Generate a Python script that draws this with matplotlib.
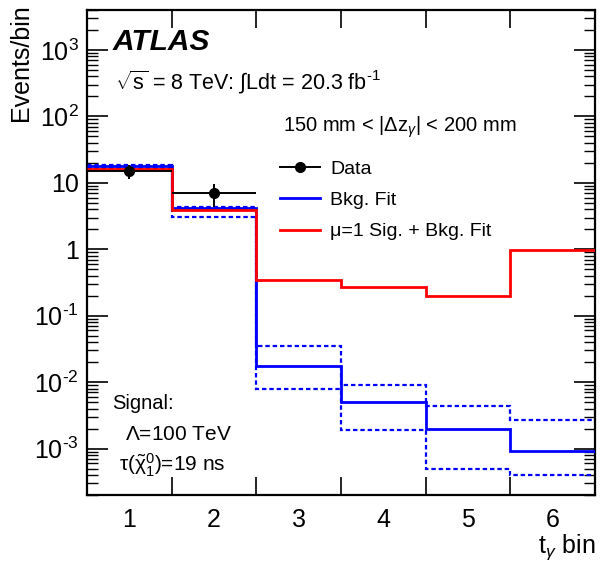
import numpy as np
import matplotlib.pyplot as plt
from matplotlib.lines import Line2D
from matplotlib.ticker import FixedLocator, FuncFormatter, LogLocator, NullFormatter

plt.rcParams.update({
    'font.family': ['Liberation Sans', 'DejaVu Sans'],
    'mathtext.fontset': 'custom',
    'mathtext.rm': 'Liberation Sans',
    'mathtext.it': 'Liberation Sans:italic',
    'mathtext.bf': 'Liberation Sans:bold',
    'axes.unicode_minus': False,
})

# t_gamma bins and fit results
bin_edges = [0.5, 1.5, 2.5, 3.5, 4.5, 5.5, 6.5]
bin_labels = ['1', '2', '3', '4', '5', '6']

bkg_fit = [18.0, 4.2, 0.0173, 0.0050, 0.00198, 0.00093]
bkg_up = [18.3, 4.3, 0.0346, 0.0092, 0.00434, 0.00273]
bkg_down = [16.5, 3.1, 0.0080, 0.00193, 0.000495, 0.000403]
sig_bkg_fit = [16.2, 3.9, 0.35, 0.27, 0.20, 0.96]

data_x = [1, 2]
data_y = [15.0, 7.0]
data_err_lo = [3.7, 2.6]
data_err_hi = [3.8, 2.7]

fig = plt.figure(figsize=(6.03, 5.66), dpi=100)
ax = fig.add_axes([0.1443, 0.1254, 0.8424, 0.8569])

dot = (0, (2.0, 1.3))
ax.stairs(bkg_up, bin_edges, baseline=None, color='#0000ff', lw=1.6, ls=dot, zorder=2)
ax.stairs(bkg_down, bin_edges, baseline=None, color='#0000ff', lw=1.6, ls=dot, zorder=2)
ax.stairs(bkg_fit, bin_edges, baseline=None, color='#0000ff', lw=2.0, zorder=3)
ax.stairs(sig_bkg_fit, bin_edges, baseline=None, color='#ff0000', lw=2.0, zorder=4)

ax.errorbar(data_x, data_y, xerr=0.5, yerr=[data_err_lo, data_err_hi],
            fmt='o', color='black', ms=7, lw=1.4, capsize=0, zorder=5)

ax.set_yscale('log')
ax.set_xlim(0.5, 6.5)
ax.set_ylim(2e-4, 4000)

# labels at bin centres, ticks on bin edges
ax.xaxis.set_major_locator(FixedLocator(data_x + [3, 4, 5, 6]))
ax.set_xticklabels(bin_labels)
ax.xaxis.set_minor_locator(FixedLocator(bin_edges[1:-1]))
ax.tick_params(axis='x', which='major', length=0, pad=9, labelsize=18)
ax.tick_params(axis='x', which='minor', length=13, width=1.2, direction='in',
               top=True, bottom=True)


def log_label(v, pos):
    if np.isclose(v, 1):
        return '1'
    if np.isclose(v, 10):
        return '10'
    n = int(round(np.log10(v)))
    if n < 0:
        return r'$10^{\text{-}%d}$' % (-n)
    return r'$10^{%d}$' % n


ax.yaxis.set_major_locator(LogLocator(base=10, numticks=20))
ax.yaxis.set_major_formatter(FuncFormatter(log_label))
ax.yaxis.set_minor_locator(LogLocator(base=10, subs=np.arange(2, 10), numticks=20))
ax.yaxis.set_minor_formatter(NullFormatter())
ax.tick_params(axis='y', which='major', length=15, width=1.2, direction='in',
               left=True, right=True, labelsize=18, pad=6)
ax.tick_params(axis='y', which='minor', length=8, width=1.0, direction='in',
               left=True, right=True)
for sp in ax.spines.values():
    sp.set_linewidth(1.6)

ax.set_ylabel('Events/bin', fontsize=18, loc='top')
ax.yaxis.set_label_coords(-0.106, 1.012)
ax.set_xlabel(r't$_{\gamma}$ bin', fontsize=18, loc='right')
ax.xaxis.set_label_coords(1.0, -0.076)

ax.text(0.051, 0.934, 'ATLAS', transform=ax.transAxes, fontsize=21.5,
        fontweight='bold', fontstyle='italic', va='center', ha='left')
ax.text(0.055, 0.851, r'$\sqrt{\mathrm{s}}$ = 8 TeV: $\int$Ldt = 20.3 fb$^{\text{-1}}$',
        transform=ax.transAxes, fontsize=15.5, va='center', ha='left')
ax.text(0.386, 0.759, r'150 mm < |$\Delta$z$_{\gamma}$| < 200 mm',
        transform=ax.transAxes, fontsize=14.5, va='center', ha='left')

ax.text(0.049, 0.188, 'Signal:', transform=ax.transAxes, fontsize=14.5,
        va='center', ha='left')
ax.text(0.075, 0.124, r'$\Lambda$=100 TeV', transform=ax.transAxes, fontsize=15,
        va='center', ha='left')
ax.text(0.063, 0.062, r'$\mathrm{\tau}(\tilde{\mathrm{\chi}}^{0}_{1})$=19 ns',
        transform=ax.transAxes, fontsize=15, va='center', ha='left')

handles = [
    Line2D([], [], color='black', marker='o', ms=7, lw=1.4),
    Line2D([], [], color='#0000ff', lw=2.0),
    Line2D([], [], color='#ff0000', lw=2.0),
]
ax.legend(handles, ['Data', 'Bkg. Fit', 'μ=1 Sig. + Bkg. Fit'],
          loc='upper left', bbox_to_anchor=(0.380, 0.690), frameon=False,
          fontsize=14, handlelength=2.06, handletextpad=0.52,
          labelspacing=0.70, borderpad=0, borderaxespad=0)

fig.savefig('out.png', dpi=100)
